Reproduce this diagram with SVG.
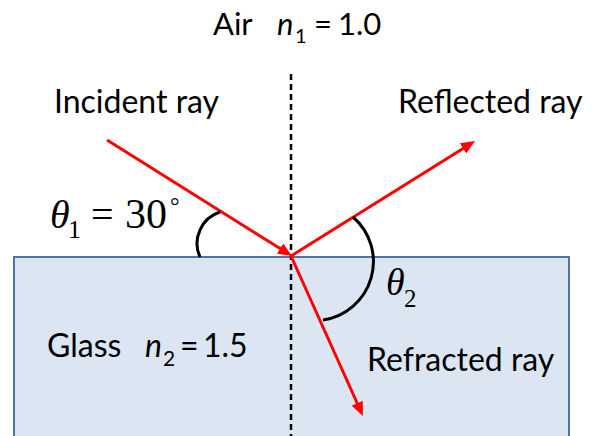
<svg xmlns="http://www.w3.org/2000/svg" width="599" height="436" viewBox="0 0 599 436">
<style>
.lbl{font-family:Lato,"Liberation Sans",sans-serif;fill:#000;}
.math{font-family:"Liberation Serif","DejaVu Serif",serif;fill:#000;}
.ray{stroke:#ff0000;stroke-width:3;fill:none;marker-end:url(#ah);}
.arc{stroke:#000;stroke-width:3;fill:none;}
</style>
<defs>
<marker id="ah" viewBox="0 0 14 12" refX="8" refY="6" markerWidth="14" markerHeight="12" orient="auto" markerUnits="userSpaceOnUse">
<path d="M0,0 L14,6 L0,12 Z" fill="#ff0000"/>
</marker>
</defs>
<rect width="599" height="436" fill="#ffffff"/>
<g id="glass">
<rect x="14" y="257" width="555" height="190" fill="#dce6f2" stroke="#4a76a8" stroke-width="2"/>
</g>
<g id="normal">
<line x1="291" y1="74" x2="291" y2="436" stroke="#000" stroke-width="2.5" stroke-dasharray="6,4"/>
</g>
<g id="connectors">
<line class="ray" x1="107" y1="140" x2="286.9" y2="252.8"/>
<line class="ray" x1="291" y1="256" x2="469.9" y2="144.2"/>
<line class="ray" x1="291" y1="256" x2="360.5" y2="410.5"/>
</g>
<g id="angle1">
<path class="arc" d="M200,257 A33,33 0 0,1 220,212"/>
<text class="math" x="50" y="228" font-size="40" font-style="italic">θ</text>
<text class="math" x="68" y="238" font-size="26">1</text>
<text class="math" x="91" y="228" font-size="40">=</text>
<text class="math" x="125" y="228" font-size="42">30</text>
<text class="math" x="170" y="214" font-size="24">°</text>
</g>
<g id="angle2">
<path class="arc" d="M353,217 A59,59 0 0,1 323,320"/>
<text class="math" x="386" y="295" font-size="38" font-style="italic">θ</text>
<text class="math" x="404" y="307" font-size="25">2</text>
</g>
<g id="air">
<text class="lbl" x="213" y="35" font-size="31">Air</text>
<text class="lbl" x="277" y="35" font-size="31" font-style="italic">n</text>
<text class="lbl" x="295" y="43" font-size="20">1</text>
<text class="lbl" x="314" y="35" font-size="31">=</text>
<text class="lbl" x="338" y="35" font-size="31">1.0</text>
</g>
<g id="incident">
<text class="lbl" x="54" y="113" font-size="32">Incident ray</text>
</g>
<g id="reflected">
<text class="lbl" x="398" y="113" font-size="32">Reflected ray</text>
</g>
<g id="glasslabel">
<text class="lbl" x="47" y="357" font-size="32">Glass</text>
<text class="lbl" x="145" y="357" font-size="32" font-style="italic">n</text>
<text class="lbl" x="163" y="366" font-size="21">2</text>
<text class="lbl" x="180" y="357" font-size="32">=</text>
<text class="lbl" x="203" y="357" font-size="32">1.5</text>
</g>
<g id="refracted">
<text class="lbl" x="367" y="371" font-size="32">Refracted ray</text>
</g>
</svg>
